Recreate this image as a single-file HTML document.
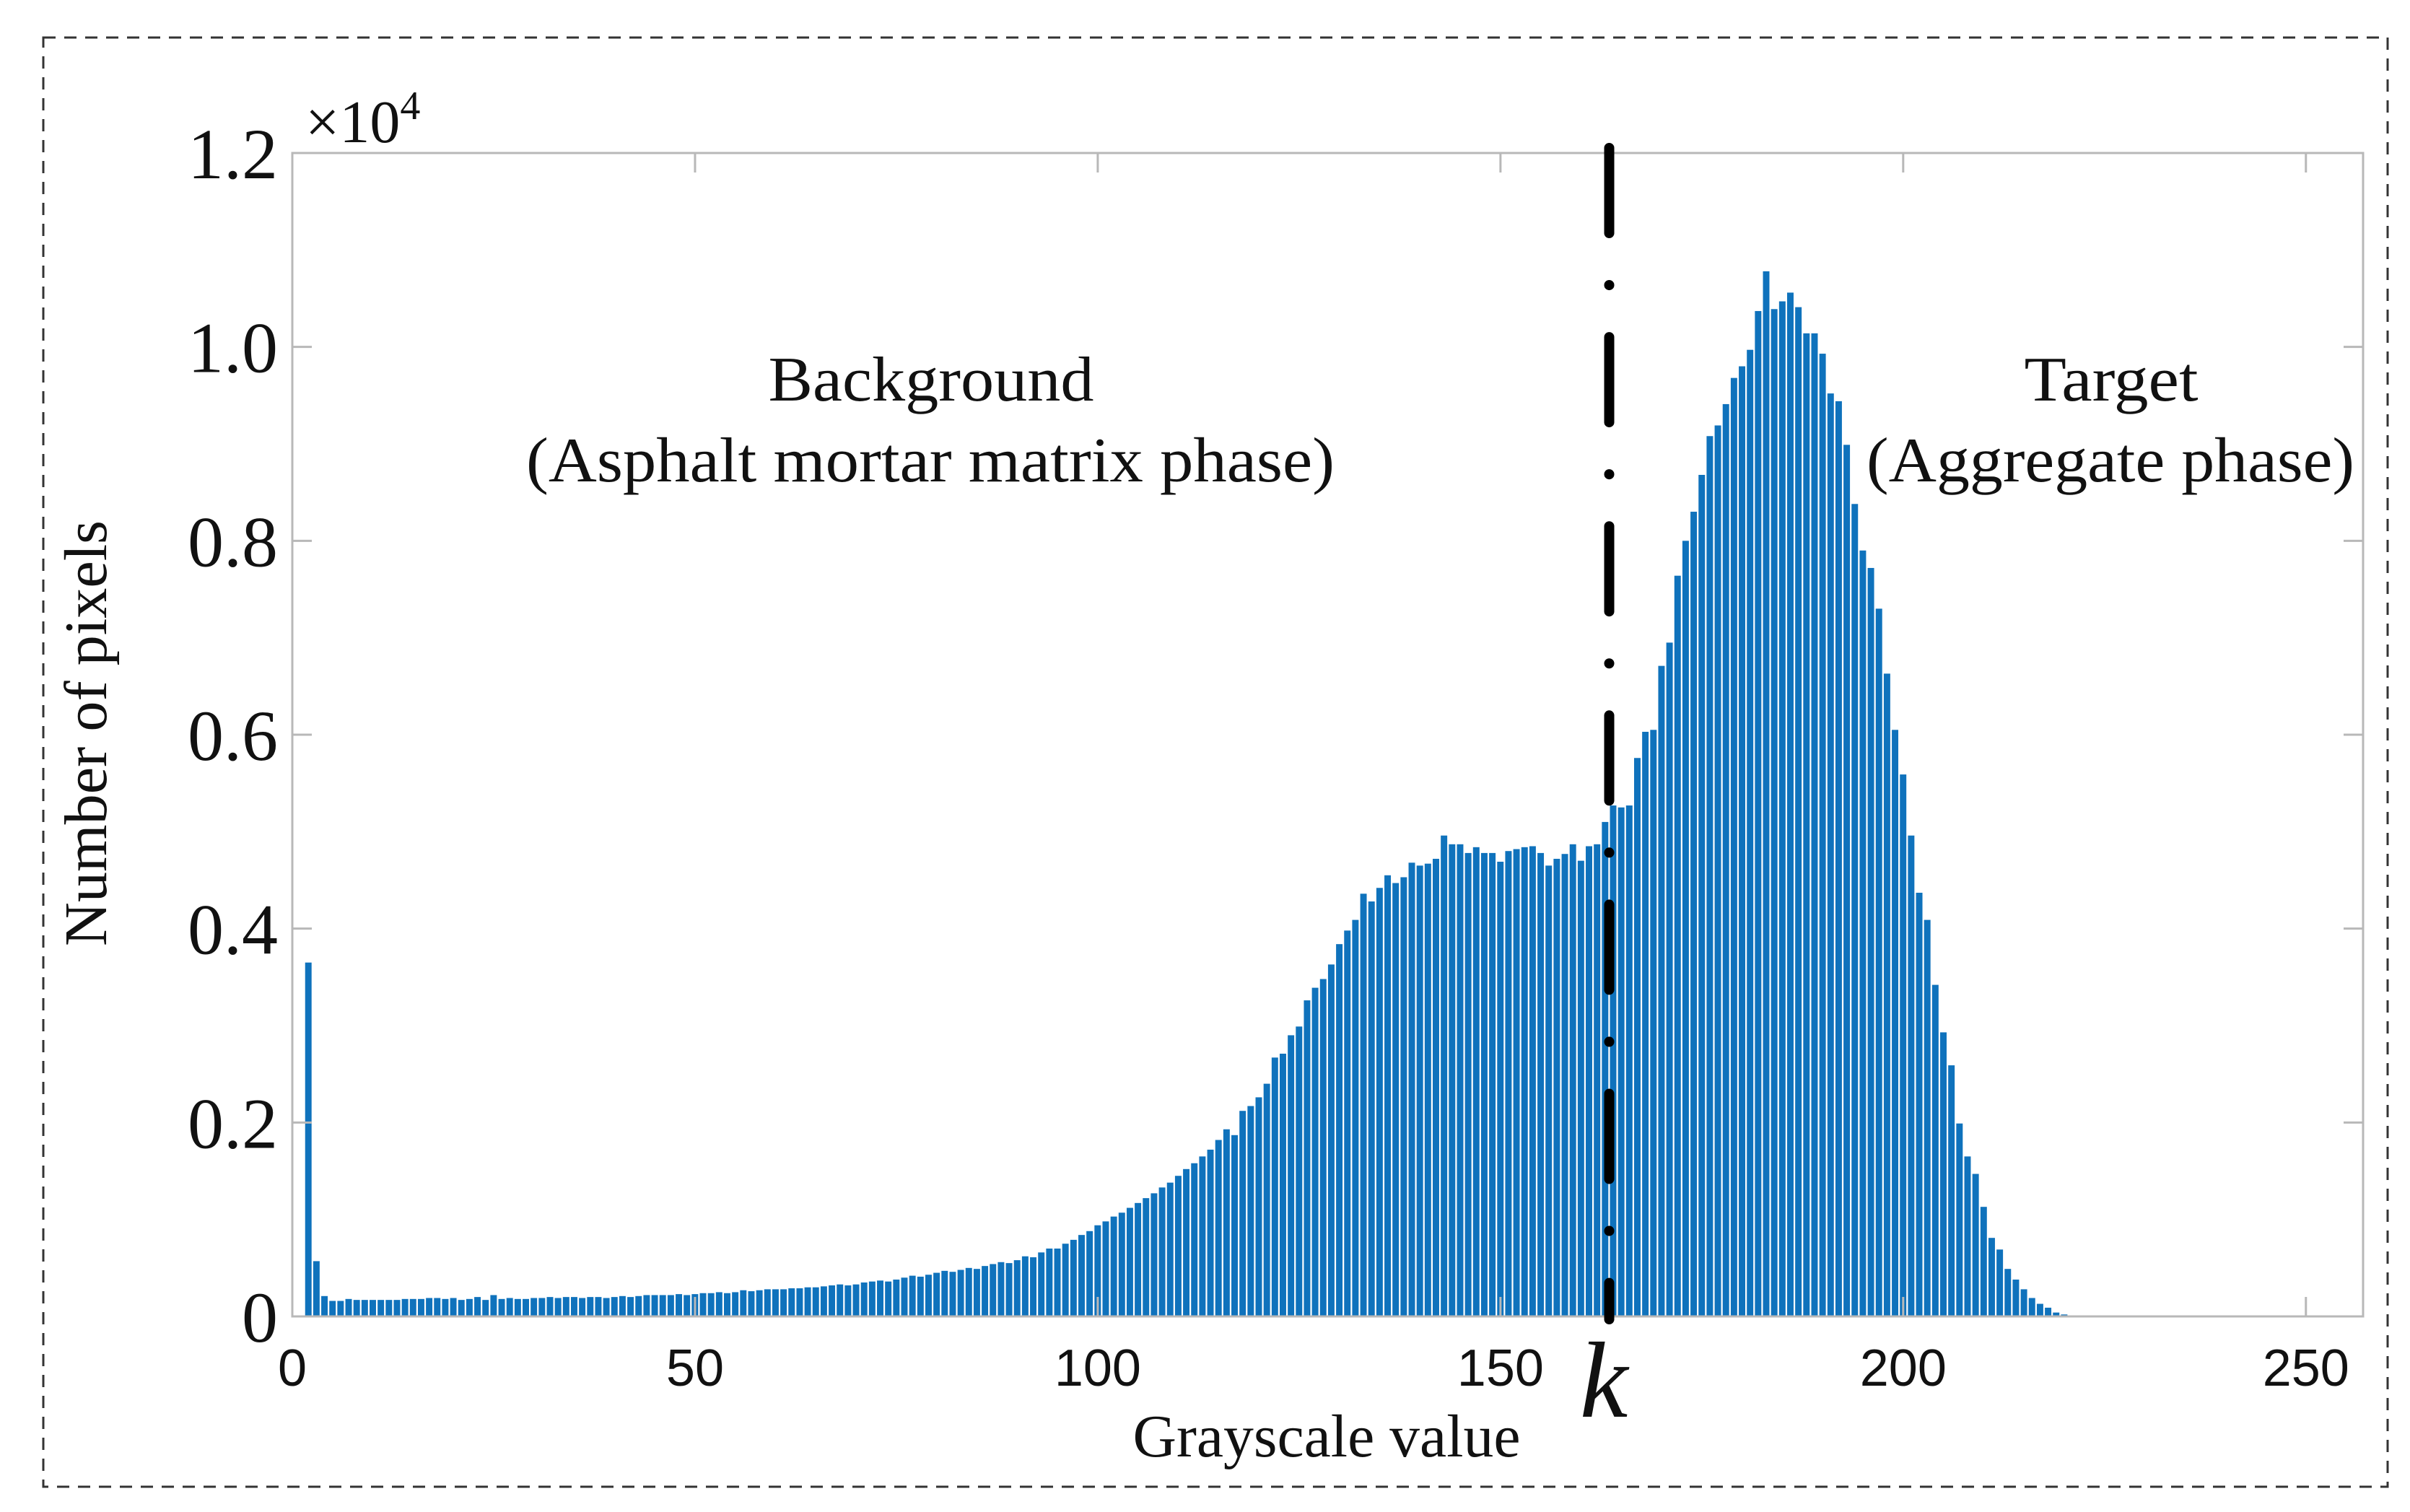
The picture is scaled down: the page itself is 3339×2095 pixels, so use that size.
<!DOCTYPE html>
<html><head><meta charset="utf-8">
<style>
html,body{margin:0;padding:0;background:#fff;}
svg{display:block;}
text{font-family:"Liberation Serif",serif;fill:#111;}
.sans{font-family:"Liberation Sans",sans-serif;}
</style></head>
<body>
<svg id="chart" width="3339" height="2095" viewBox="0 0 3339 2095" xmlns="http://www.w3.org/2000/svg">
  <rect x="60" y="52" width="3248" height="2008" fill="none" stroke="#333" stroke-width="3" stroke-dasharray="17 12"/>
  <g id="bars"></g>
  <g id="axes"></g>
  <g id="labels">
    <text x="423" y="197" font-size="84">×10<tspan font-size="56" dy="-32">4</tspan></text>
    <text x="1290" y="555" font-size="88" text-anchor="middle" textLength="451" lengthAdjust="spacingAndGlyphs">Background</text>
    <text x="1289" y="667" font-size="88" text-anchor="middle" textLength="1120" lengthAdjust="spacingAndGlyphs">(Asphalt mortar matrix phase)</text>
    <text x="2925" y="555" font-size="88" text-anchor="middle" textLength="241" lengthAdjust="spacingAndGlyphs">Target</text>
    <text x="2924" y="667" font-size="88" text-anchor="middle" textLength="676" lengthAdjust="spacingAndGlyphs">(Aggregate phase)</text>
    <text x="1838" y="2018" font-size="84" text-anchor="middle" textLength="537" lengthAdjust="spacingAndGlyphs">Grayscale value</text>
    <text x="0" y="0" font-size="84" text-anchor="middle" textLength="590" lengthAdjust="spacingAndGlyphs" transform="translate(147,1016) rotate(-90)">Number of pixels</text>
    <text x="2222" y="1963" font-size="150" font-style="italic" text-anchor="middle">k</text>
  </g>
</svg>
<script>
const startValue = [2];
const counts = [
0.365,0.057,0.021,0.016,0.016,0.018,0.017,0.017,0.017,
0.017,0.017,0.017,0.018,0.018,0.018,0.019,0.019,0.018,0.019,
0.017,0.018,0.020,0.017,0.022,0.018,0.019,0.018,0.018,0.019,
0.019,0.020,0.019,0.020,0.020,0.019,0.020,0.020,0.019,0.020,
0.021,0.020,0.021,0.022,0.022,0.022,0.022,0.023,0.022,0.023,
0.024,0.024,0.025,0.024,0.025,0.027,0.026,0.027,0.028,0.028,
0.028,0.029,0.029,0.030,0.030,0.031,0.032,0.033,0.032,0.033,
0.035,0.036,0.037,0.036,0.038,0.040,0.042,0.041,0.043,0.045,
0.047,0.046,0.048,0.050,0.049,0.052,0.054,0.056,0.055,0.058,
0.062,0.061,0.066,0.070,0.070,0.075,0.079,0.084,0.088,0.094,
0.098,0.103,0.107,0.112,0.117,0.122,0.127,0.133,0.138,0.145,
0.152,0.158,0.165,0.172,0.182,
0.193,0.187,0.212,0.217,0.226,0.240,0.267,0.271,0.290,0.299,
0.326,0.339,0.348,0.363,0.384,0.398,0.409,0.436,0.428,0.442,
0.455,0.447,0.453,0.468,0.465,0.467,0.472,0.496,0.487,0.487,
0.478,0.484,0.478,0.478,0.469,0.480,0.482,0.484,0.485,0.478,
0.465,0.472,0.477,0.487,0.470,0.485,0.487,0.510,0.527,0.525,
0.527,0.576,0.603,0.605,0.671,0.695,0.764,0.800,0.830,0.868,
0.908,0.919,0.941,0.968,0.980,0.997,1.037,1.078,
1.039,1.047,1.056,1.041,1.014,1.014,0.993,0.952,0.944,0.899,
0.838,0.790,0.772,0.730,0.663,0.605,0.559,0.496,0.437,0.409,
0.342,0.293,0.259,0.199,0.165,0.147,0.113,0.081,0.069,0.049,
0.038,0.028,0.019,0.013,0.009,0.004,0.002,0.001
];
const xTicks = [0,50,100,150,200,250];
const yTicks = [0,0.2,0.4,0.6,0.8,1.0,1.2];
const yTickLabels = ["0","0.2","0.4","0.6","0.8","1.0","1.2"];
const kValue = [163.5];

const NS = "http://www.w3.org/2000/svg";
const L = 405, R = 3274, T = 212, B = 1824;
const xMin = 0, xMax = 257.1, yMin = 0, yMax = 1.2;
function xs(v){ return L + (v - xMin) / (xMax - xMin) * (R - L); }
function ys(v){ return B - (v - yMin) / (yMax - yMin) * (B - T); }
function mk(tag, attrs){ const e = document.createElementNS(NS, tag); for (const k in attrs) e.setAttribute(k, attrs[k]); return e; }

const barsG = document.getElementById('bars');
const pitch = xs(1) - xs(0);
counts.forEach((c, i) => {
  const v = startValue[0] + i;
  const x0 = xs(v - 0.5) + 1, y0 = ys(c);
  const r = mk('rect', {x: x0.toFixed(2), y: y0.toFixed(2), width: (pitch - 2.2).toFixed(2), height: Math.max(0, B - y0).toFixed(2), fill: '#0f72bc'});
  
  
  barsG.appendChild(r);
});

const ax = document.getElementById('axes');
const box = mk('rect', {x: L, y: T, width: R - L, height: B - T, fill: 'none', stroke: '#b8b8b8', 'stroke-width': 3});


ax.appendChild(box);
xTicks.forEach(t => {
  const x = xs(t);
  ax.appendChild(mk('line', {x1: x, y1: B, x2: x, y2: B - 27, stroke: '#b8b8b8', 'stroke-width': 3}));
  ax.appendChild(mk('line', {x1: x, y1: T, x2: x, y2: T + 27, stroke: '#b8b8b8', 'stroke-width': 3}));
  const tx = mk('text', {x: x, y: 1920, 'font-size': 72, 'text-anchor': 'middle', class: 'sans'});
  tx.textContent = String(t);
  
  
  ax.appendChild(tx);
});
yTicks.forEach((t, i) => {
  const y = ys(t);
  ax.appendChild(mk('line', {x1: L, y1: y, x2: L + 27, y2: y, stroke: '#b8b8b8', 'stroke-width': 3}));
  ax.appendChild(mk('line', {x1: R, y1: y, x2: R - 27, y2: y, stroke: '#b8b8b8', 'stroke-width': 3}));
  const tx = mk('text', {x: 385, y: y + 35, 'font-size': 100, 'text-anchor': 'end'});
  tx.textContent = yTickLabels[i];
  
  
  ax.appendChild(tx);
});
const kx = xs(kValue[0]);
const kl = mk('line', {x1: kx, y1: 205, x2: kx, y2: B + 4, stroke: '#000', 'stroke-width': 14, 'stroke-linecap': 'round', 'stroke-dasharray': '118 72 0.1 72'});


ax.appendChild(kl);
</script>
</body></html>
